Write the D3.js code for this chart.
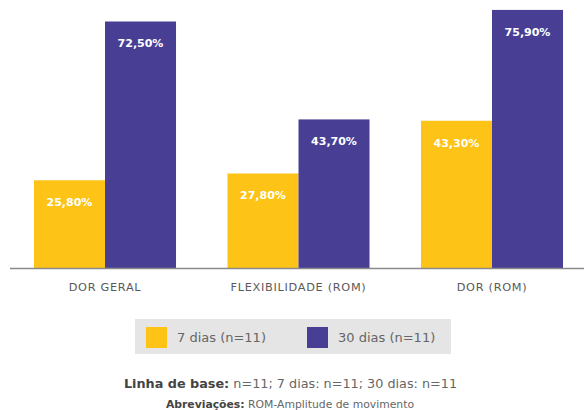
<!DOCTYPE html>
<html><head><meta charset="utf-8">
<script src="https://cdn.jsdelivr.net/npm/d3@7"></script>
<style>body{margin:0;background:#fff}svg{display:block}</style>
</head><body>
<svg id="c" width="584" height="410"></svg>
<script>
const categories = ["DOR GERAL", "FLEXIBILIDADE (ROM)", "DOR (ROM)"];
const seriesNames = ["7 dias (n=11)", "30 dias (n=11)"];
const values7 = [25.8, 27.8, 43.3];
const values30 = [72.5, 43.7, 75.9];
const labels7 = ["25,80%", "27,80%", "43,30%"];
const labels30 = ["72,50%", "43,70%", "75,90%"];
const colors = ["#FDC316", "#483F95"];

const font = "DejaVu Sans, sans-serif";
const svg = d3.select("#c");
const baseY = 268;
const x0 = d3.scaleBand().domain(categories).range([8.25, 588.75]).paddingInner(0.266).paddingOuter(0.133);
const x1 = d3.scaleBand().domain([0, 1]).range([0, x0.bandwidth()]);
const y = d3.scaleLinear().domain([0, 78.82]).range([baseY, 0]);

const data = categories.map((c, i) => ({c, vals: [
  {s: 0, v: values7[i], l: labels7[i]},
  {s: 1, v: values30[i], l: labels30[i]}
]}));

const g = svg.append("g");
const grp = g.selectAll("g.grp").data(data).join("g")
  .attr("transform", d => `translate(${x0(d.c)},0)`);
grp.selectAll("rect").data(d => d.vals).join("rect")
  .attr("x", d => x1(d.s)).attr("width", x1.bandwidth())
  .attr("y", d => y(d.v)).attr("height", d => y(0) - y(d.v))
  .attr("fill", d => colors[d.s]);
grp.selectAll("text").data(d => d.vals).join("text")
  .attr("x", d => x1(d.s) + x1.bandwidth() / 2)
  .attr("y", d => y(d.v) + 26)
  .attr("text-anchor", "middle").attr("fill", "#fff")
  .attr("font-family", font).attr("font-weight", "bold").attr("font-size", 11)
  .text(d => d.l);

// axis
const xAxis = d3.axisBottom(x0).tickSize(0).tickPadding(0);
const ax = svg.append("g").attr("transform", `translate(0,${baseY})`).call(xAxis);
ax.select(".domain").remove();
svg.append("line").attr("x1", 10).attr("x2", 584).attr("y1", baseY + 0.5).attr("y2", baseY + 0.5)
  .attr("stroke", "#8a8a8a").attr("stroke-width", 1.5);
ax.selectAll("text").attr("y", 23).attr("dy", 0)
  .attr("font-family", font).attr("font-size", 11.3).attr("fill", "#5a5a5a")
  .attr("letter-spacing", 0.7);

// legend
const lg = svg.append("g");
lg.append("rect").attr("x", 135).attr("y", 319).attr("width", 316).attr("height", 35).attr("fill", "#e5e5e5");
const lx = [146, 307];
seriesNames.forEach((s, i) => {
  lg.append("rect").attr("x", lx[i]).attr("y", 327).attr("width", 21).attr("height", 21).attr("fill", colors[i]);
  lg.append("text").attr("x", lx[i] + 31).attr("y", 342).attr("font-family", font).attr("font-size", 13)
    .attr("fill", "#666").text(s);
});

// notes
const t1 = svg.append("text").attr("x", 290.5).attr("y", 388).attr("text-anchor", "middle")
  .attr("font-family", font).attr("font-size", 12.8).attr("fill", "#666");
t1.append("tspan").attr("font-weight", "bold").attr("fill", "#444").text("Linha de base:");
t1.append("tspan").text(" n=11; 7 dias: n=11; 30 dias: n=11");
const t2 = svg.append("text").attr("x", 290).attr("y", 408).attr("text-anchor", "middle")
  .attr("font-family", font).attr("font-size", 10.8).attr("fill", "#666");
t2.append("tspan").attr("font-weight", "bold").attr("fill", "#444").text("Abreviações:");
t2.append("tspan").text(" ROM-Amplitude de movimento");
</script>
</body></html>
